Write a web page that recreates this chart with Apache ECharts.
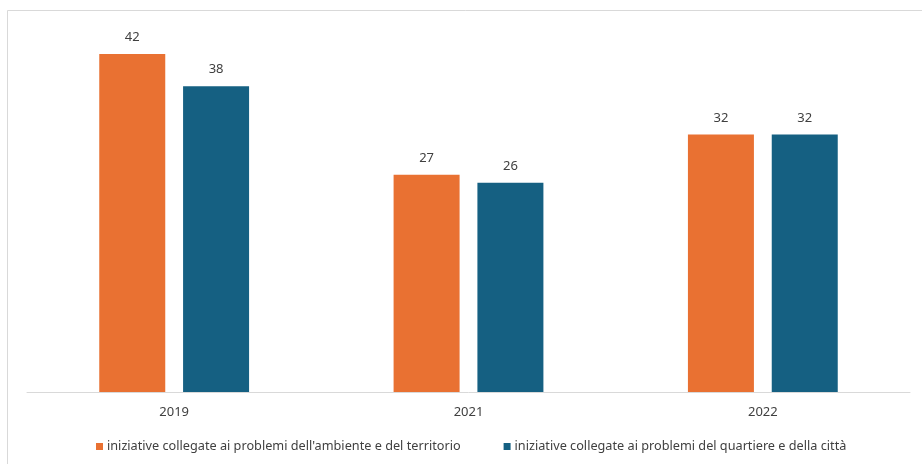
<!DOCTYPE html>
<html>
<head>
<meta charset="utf-8">
<script src="https://cdn.jsdelivr.net/npm/echarts@6/dist/echarts.min.js"></script>
<style>html,body{margin:0;padding:0;background:#fff}#c{width:922px;height:464px}</style>
</head>
<body>
<div id="c"></div>
<script>
const categories = ['2019', '2021', '2022'];
const seriesNames = [
  "iniziative collegate ai problemi dell'ambiente e del territorio",
  "iniziative collegate ai problemi del quartiere e della città"
];
const ambienteValues = [42, 27, 32];
const quartiereValues = [38, 26, 32];

const chart = echarts.init(document.getElementById('c'));
const font = 'Noto Sans';
chart.setOption({
  animation: false,
  backgroundColor: '#fff',
  textStyle: { fontFamily: font },
  graphic: [{
    type: 'rect', shape: { x: 7.5, y: 10.5, width: 1000, height: 1000 },
    style: { fill: 'none', stroke: '#d9d9d9', lineWidth: 1 }, silent: true
  }],
  grid: { left: 27, right: 12, top: 54, bottom: 72 },
  legend: {
    bottom: 6, left: 91, itemWidth: 7, itemHeight: 7, itemGap: 43,
    icon: 'rect',
    textStyle: { fontFamily: font, fontSize: 12.7, color: '#404040', padding: [0, 0, 0, -1] },
    data: seriesNames
  },
  xAxis: {
    type: 'category', data: categories,
    axisLine: { lineStyle: { color: '#d9d9d9' } },
    axisTick: { show: false },
    axisLabel: { color: '#404040', fontSize: 13, fontFamily: font, margin: 14 }
  },
  yAxis: {
    type: 'value', min: 0, max: 42, show: false,
    splitLine: { show: false }
  },
  series: [
    {
      name: seriesNames[0], type: 'bar', data: ambienteValues,
      barWidth: 66, barGap: '27%',
      itemStyle: { color: '#E97132' },
      label: { show: true, position: 'top', distance: 10, color: '#404040', fontSize: 13, fontFamily: font }
    },
    {
      name: seriesNames[1], type: 'bar', data: quartiereValues,
      barWidth: 66, barGap: '27%',
      itemStyle: { color: '#156082' },
      label: { show: true, position: 'top', distance: 10, color: '#404040', fontSize: 13, fontFamily: font }
    }
  ]
});
</script>
</body>
</html>
